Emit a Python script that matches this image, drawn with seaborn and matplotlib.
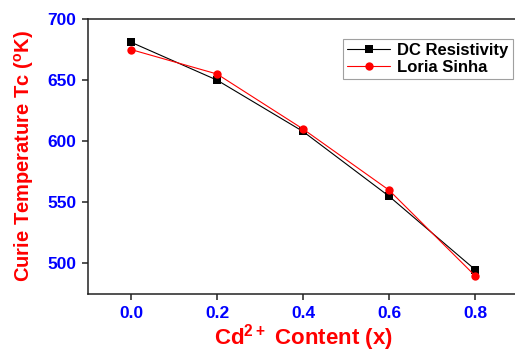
import matplotlib
matplotlib.use("Agg")
import matplotlib.pyplot as plt
import seaborn as sns
import pandas as pd

x_content = [0.0, 0.2, 0.4, 0.6, 0.8]
dc_resistivity = [681, 650, 608, 555, 495]
loria_sinha = [675, 655, 610, 560, 490]
x_ticks = [0.0, 0.2, 0.4, 0.6, 0.8]
y_ticks = [500, 550, 600, 650, 700]

sns.set_theme(style="ticks")
plt.rcParams['font.family'] = ['Liberation Sans', 'DejaVu Sans']
plt.rcParams['mathtext.fontset'] = 'custom'
plt.rcParams['mathtext.rm'] = 'Liberation Sans'
plt.rcParams['mathtext.bf'] = 'Liberation Sans:bold'

df_dc = pd.DataFrame({"x": x_content, "y": dc_resistivity})
df_ls = pd.DataFrame({"x": x_content, "y": loria_sinha})

fig = plt.figure(figsize=(5.15, 3.52), dpi=100)
ax = fig.add_axes([88/515, 1-294/352, 430/515, 275/352])

sns.lineplot(data=df_dc, x="x", y="y", ax=ax, color="black", marker="s",
             markersize=5.5, markeredgewidth=0, linewidth=0.8, label="DC Resistivity")
sns.lineplot(data=df_ls, x="x", y="y", ax=ax, color="red", marker="o",
             markersize=6, markeredgewidth=0, linewidth=0.8, label="Loria Sinha")

ax.set_xlim(-0.1, 0.9)
ax.set_ylim(475, 700)
ax.set_xticks(x_ticks)
ax.set_xticklabels([f"{v:.1f}" for v in x_ticks])
ax.set_yticks(y_ticks)
ax.set_yticklabels([str(v) for v in y_ticks])

for lab in ax.get_xticklabels() + ax.get_yticklabels():
    lab.set_color("blue")
    lab.set_fontweight("bold")
    lab.set_fontsize(12.5)

ax.tick_params(axis="both", direction="out", length=4.5, width=1.1, color="#222222", pad=4)
for s in ax.spines.values():
    s.set_linewidth(1.1)
    s.set_color("#222222")

ax.set_xlabel("Cd$^{\\mathbf{2+}}$ Content (x)", color="red", fontsize=16,
              fontweight="bold", labelpad=1)
ax.set_ylabel("Curie Temperature Tc ($^{\\mathbf{o}}$K)", color="red", fontsize=14.5,
              fontweight="bold", labelpad=8)

leg = ax.legend(loc="upper left", bbox_to_anchor=(0.593, 0.927), borderaxespad=0,
                fancybox=False, frameon=True, handlelength=2.6,
                prop={"weight": "bold", "size": 12}, borderpad=0.25, labelspacing=0.1,
                handletextpad=0.4)
leg.get_frame().set_edgecolor("#888888")
leg.get_frame().set_linewidth(0.8)
for t in leg.get_texts():
    t.set_color("black")

fig.savefig("out.png", dpi=100)
